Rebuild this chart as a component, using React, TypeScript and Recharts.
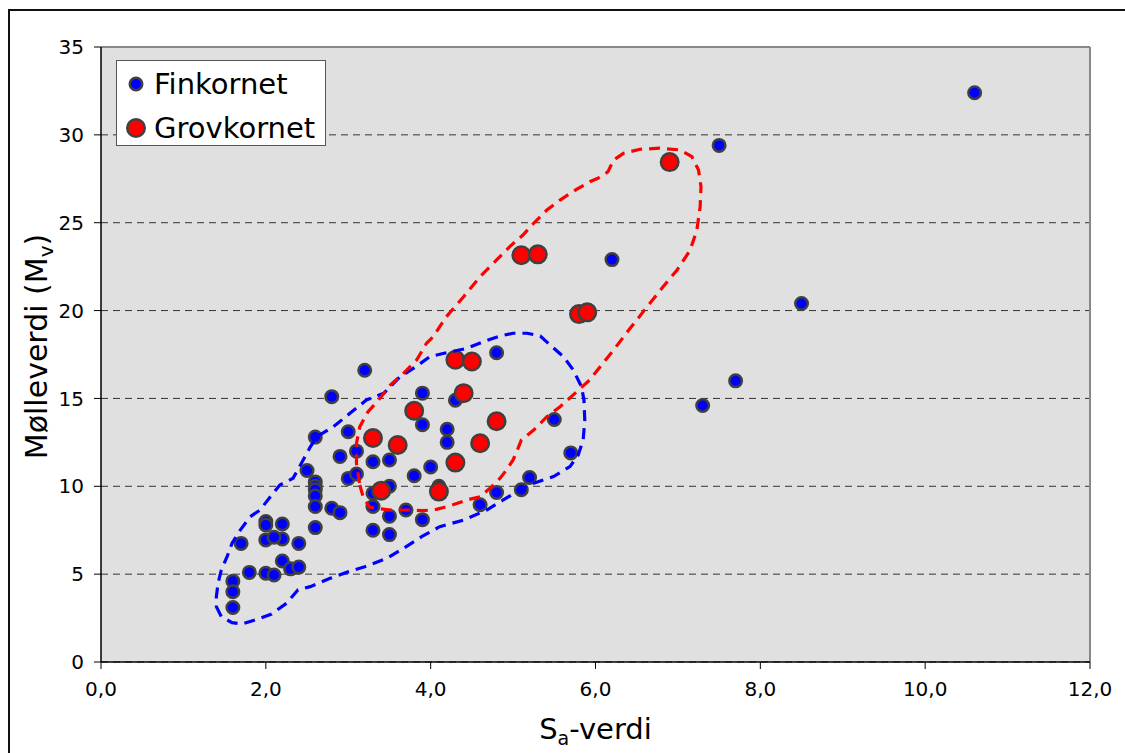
import { CartesianGrid, Legend, ReferenceLine, Scatter, ScatterChart, XAxis, YAxis } from 'recharts';

const FONT = '"DejaVu Sans", Verdana, sans-serif';

const xTicks = [0, 2, 4, 6, 8, 10, 12];
const yTicks = [0, 5, 10, 15, 20, 25, 30, 35];

// S_a, M_v pairs
const finkornet: [number, number][] = [
    [10.6, 32.4], [7.5, 29.4], [6.2, 22.9], [8.5, 20.4], [7.7, 16.0], [7.3, 14.6],
    [4.8, 17.6], [3.2, 16.6], [2.8, 15.1], [3.9, 15.3], [4.3, 14.9], [3.9, 13.5],
    [4.2, 13.25], [4.2, 12.5], [3.0, 13.1], [2.6, 12.8], [2.9, 11.7], [3.1, 12.0],
    [3.3, 11.4], [3.5, 11.5], [2.5, 10.9], [3.0, 10.45], [3.1, 10.7], [2.6, 10.25],
    [2.6, 10.0], [2.6, 9.8], [2.6, 9.45], [2.6, 8.85], [2.6, 7.65], [2.8, 8.75],
    [2.9, 8.5], [3.3, 9.6], [3.5, 10.0], [3.3, 8.85], [3.5, 8.3], [3.3, 7.5],
    [3.5, 7.25], [3.7, 8.65], [3.9, 8.1], [4.0, 11.1], [3.8, 10.6], [4.1, 10.0],
    [5.5, 13.8], [5.7, 11.9], [5.2, 10.5], [5.1, 9.8], [4.8, 9.65], [4.6, 8.95],
    [2.0, 8.0], [2.0, 7.8], [2.0, 6.95], [2.2, 7.85], [2.2, 7.0], [2.1, 7.1],
    [2.4, 6.75], [1.7, 6.75], [1.8, 5.1], [2.0, 5.05], [2.1, 4.95], [2.2, 5.75],
    [2.3, 5.3], [2.4, 5.4], [1.6, 4.6], [1.6, 4.0], [1.6, 3.1],
];

const grovkornet: [number, number][] = [
    [6.9, 28.45], [5.1, 23.15], [5.3, 23.2], [5.8, 19.8], [5.9, 19.9], [4.3, 17.2],
    [4.5, 17.1], [4.4, 15.3], [3.8, 14.3], [4.8, 13.7], [3.3, 12.75], [3.6, 12.35],
    [4.6, 12.45], [4.3, 11.35], [3.4, 9.75], [4.1, 9.7],
];

// hand-drawn outlines around each group
const finOmraade: [number, number][] = [
    [1.40, 3.15], [1.46, 2.58], [1.59, 2.24], [1.71, 2.16], [1.87, 2.39], [2.07, 2.73],
    [2.25, 3.34], [2.39, 4.10], [2.54, 4.29], [2.78, 4.76], [2.98, 5.10], [3.20, 5.42],
    [3.47, 5.90], [3.67, 6.47], [3.89, 7.13], [4.11, 7.70], [4.40, 8.08], [4.68, 8.65],
    [4.88, 9.22], [5.08, 9.79], [5.25, 10.17], [5.49, 10.55], [5.69, 11.12], [5.79, 11.78],
    [5.85, 12.63], [5.87, 13.77], [5.86, 14.91], [5.83, 15.67], [5.73, 16.62], [5.61, 17.38],
    [5.45, 18.04], [5.33, 18.55], [5.17, 18.71], [5.00, 18.71], [4.84, 18.55], [4.64, 18.23],
    [4.44, 17.85], [4.19, 17.60], [3.99, 17.38], [3.81, 16.77], [3.63, 16.24], [3.43, 15.29],
    [3.22, 14.91], [3.02, 14.15], [2.82, 13.39], [2.62, 12.82], [2.54, 12.25], [2.41, 11.12],
    [2.33, 10.46], [2.17, 10.07], [2.07, 9.50], [1.93, 8.65], [1.81, 8.27], [1.69, 7.51],
    [1.59, 6.76], [1.53, 5.99], [1.46, 5.24], [1.42, 4.48], [1.40, 3.72],
];

const grovOmraade: [number, number][] = [
    [3.14, 10.07], [3.18, 9.41], [3.26, 8.80], [3.51, 8.65], [3.71, 8.65], [3.91, 8.61],
    [4.07, 8.69], [4.23, 8.88], [4.44, 9.22], [4.60, 9.41], [4.74, 9.98], [4.84, 10.45],
    [4.92, 10.93], [5.00, 11.50], [5.06, 12.16], [5.10, 12.63], [5.25, 13.20], [5.41, 13.96],
    [5.57, 14.53], [5.73, 15.20], [5.93, 16.05], [6.09, 17.00], [6.22, 17.76], [6.42, 18.99],
    [6.58, 19.94], [6.82, 21.36], [6.99, 22.31], [7.15, 23.45], [7.23, 24.59], [7.27, 25.91],
    [7.28, 27.05], [7.25, 28.00], [7.17, 28.76], [7.03, 29.14], [6.78, 29.24], [6.54, 29.18],
    [6.34, 28.95], [6.22, 28.57], [6.15, 27.89], [6.03, 27.53], [5.93, 27.33], [5.77, 26.90],
    [5.57, 26.29], [5.41, 25.72], [5.25, 24.97], [5.12, 24.30], [4.96, 23.64], [4.80, 22.88],
    [4.60, 21.93], [4.40, 20.79], [4.19, 19.65], [4.03, 18.51], [3.95, 18.14], [3.83, 17.19],
    [3.67, 16.43], [3.51, 15.76], [3.35, 14.81], [3.24, 14.25], [3.14, 13.39], [3.10, 12.45],
    [3.10, 11.31],
];

const toPoints = (rows: [number, number][]) => rows.map(([x, y]) => ({ x, y }));

const markers: Record<string, { r: number; fill: string }> = {
    Finkornet: { r: 6.25, fill: '#0000ff' },
    Grovkornet: { r: 8.75, fill: '#ff0000' },
};

const dot = (name: string) => (p: any) => (
    <circle cx={p.cx} cy={p.cy} r={markers[name].r} fill={markers[name].fill} stroke="#404040" strokeWidth={2.5} />
);

const noDot = () => <g />;

const LegendBox = ({ payload }: any) => (
    <div style={{ width: 208, height: 84, background: '#fff', border: '1.5px solid #555', fontFamily: FONT }}>
        {(payload || [])
            .filter((e: any) => markers[e.value])
            .map((e: any, i: number) => (
                <div key={e.value} style={{ position: 'absolute', left: 0, top: 2 + i * 44, height: 44, display: 'flex', alignItems: 'center' }}>
                    <svg width={38} height={24} style={{ display: 'block' }}>
                        <circle cx={20} cy={12} r={markers[e.value].r} fill={markers[e.value].fill} stroke="#404040" strokeWidth={2.5} />
                    </svg>
                    <span style={{ fontSize: 29, color: '#000', whiteSpace: 'nowrap' }}>{e.value}</span>
                </div>
            ))}
    </div>
);

const XTitle = ({ viewBox }: any) => (
    <text x={viewBox.x + viewBox.width / 2} y={viewBox.y + 77} textAnchor="middle" fontSize={29} fontFamily={FONT} fill="#000">
        S<tspan dy={6} fontSize={19}>a</tspan>
        <tspan dy={-6}>-verdi</tspan>
    </text>
);

const YTitle = ({ viewBox }: any) => (
    <text
        transform={`translate(47, ${viewBox.y + viewBox.height / 2 - 8}) rotate(-90)`}
        textAnchor="middle"
        fontSize={30}
        fontFamily={FONT}
        fill="#000"
    >
        Mølleverdi (M<tspan dy={6} fontSize={20}>v</tspan>
        <tspan dy={-6}>)</tspan>
    </text>
);

const tickStyle = { fontSize: 20, fill: '#000', fontFamily: FONT };

export default function App() {
    return (
        <div style={{ position: 'relative', width: 1125, height: 753, overflow: 'hidden', background: '#fff' }}>
            <style>{'html,body{margin:0;overflow:hidden}'}</style>
            <div style={{ position: 'absolute', left: 8, top: 9, width: 1200, height: 800, border: '2px solid #111' }} />
            <ScatterChart
                width={1125}
                height={753}
                margin={{ top: 47, right: 35, bottom: 31, left: 0 }}
                style={{ position: 'absolute', left: 0, top: 0 }}
            >
                <CartesianGrid fill="#e0e0e0" vertical={false} stroke="#333" strokeDasharray="7 5" />
                <XAxis
                    type="number"
                    dataKey="x"
                    domain={[0, 12]}
                    ticks={xTicks}
                    tickFormatter={(v: number) => v.toFixed(1).replace('.', ',')}
                    tick={tickStyle}
                    tickSize={7}
                    tickMargin={13}
                    height={60}
                    axisLine={{ stroke: '#000', strokeWidth: 1.5 }}
                    tickLine={{ stroke: '#000' }}
                    label={{ content: XTitle }}
                />
                <YAxis
                    type="number"
                    dataKey="y"
                    domain={[0, 35]}
                    ticks={yTicks}
                    tick={tickStyle}
                    tickSize={7}
                    tickMargin={10}
                    width={101}
                    axisLine={{ stroke: '#000', strokeWidth: 1.5 }}
                    tickLine={{ stroke: '#000' }}
                    label={{ content: YTitle }}
                />
                <ReferenceLine y={35} stroke="#888" strokeWidth={2} />
                <ReferenceLine x={12} stroke="#888" strokeWidth={2} />
                <Legend
                    layout="horizontal"
                    verticalAlign="middle"
                    align="center"
                    content={LegendBox}
                    wrapperStyle={{ left: 116, top: 60, width: 211, height: 87 }}
                />
                <Scatter name="Finkornet" data={toPoints(finkornet)} shape={dot('Finkornet')} isAnimationActive={false} />
                <Scatter name="Grovkornet" data={toPoints(grovkornet)} shape={dot('Grovkornet')} isAnimationActive={false} />
                <Scatter
                    name="fin-omraade"
                    data={toPoints(finOmraade)}
                    shape={noDot}
                    line={{ stroke: '#0000ff', strokeWidth: 3.2, strokeDasharray: '11 7', fill: 'none' }}
                    lineJointType="linearClosed"
                    legendType="none"
                    isAnimationActive={false}
                />
                <Scatter
                    name="grov-omraade"
                    data={toPoints(grovOmraade)}
                    shape={noDot}
                    line={{ stroke: '#ff0000', strokeWidth: 3.2, strokeDasharray: '11 7', fill: 'none' }}
                    lineJointType="linearClosed"
                    legendType="none"
                    isAnimationActive={false}
                />
            </ScatterChart>
        </div>
    );
}
